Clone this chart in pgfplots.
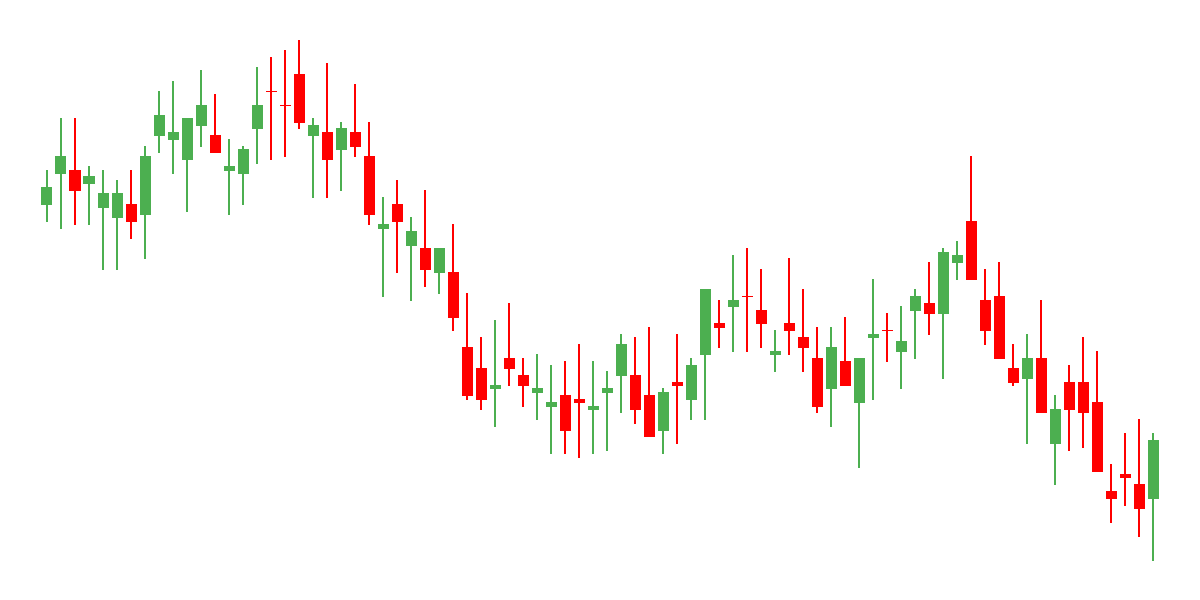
\documentclass[border=0pt]{standalone}
\usepackage{pgfplots}
\usepackage{pgfplotstable}
\pgfplotsset{compat=1.18}
\definecolor{upc}{RGB}{76,175,80}
\definecolor{downc}{RGB}{255,0,0}
\pgfplotstableread{
x o h l c
0 395.3 430 378 413
1 426.3 482 371.3 443.7
3 416.3 434 375.3 424
4 392.3 430 330.3 407
5 382.3 420 330.3 407
7 385.3 454 341.3 443.7
8 464.3 509 447.3 485
9 460.3 519 426.3 468
10 440.3 482 388.3 482
11 474.3 530 453.3 495
13 429.3 461 385.3 434
14 426.3 454 395.3 451
15 471.3 533 436.3 495
19 464.3 482 402.3 475
21 450.3 478 409.3 472
24 371.3 403 303.3 376
26 354.3 383 299.3 369
28 327.3 352 306.3 352
32 211.3 280 173.3 215
35 207.3 246 180.3 212
36 193.3 235 146.3 198
39 190.3 239 146.3 194
40 207.3 229 149.3 212
41 224.3 266 187.3 256
44 169.3 212 146.3 208
46 200.3 242 180.3 235
47 245.3 311 180.3 311
49 293.3 345 248.3 300
52 245.3 270 228.3 249
56 211.3 273 173.3 253
58 197.3 242 132.3 242
59 262.3 321 200.3 266
61 248.3 294 211.3 259
62 289.3 311 241.3 304
64 286.3 352 221.3 348
65 337.3 359 320.3 345
70 221.3 266 156.3 242
72 156.3 205 115.3 191
79 101.3 167 39.3 160
}\greentab
\pgfplotstableread{
x o h l c
2 430 482 375.3 409.3
6 396 430 361.3 378.3
12 465 506 447.3 447.3
16 508.7 543 440.3 508.7
17 494.7 550 443.3 494.7
18 526 560 471.3 477.3
20 468 537 402.3 440.3
22 468 516 443.3 453.3
23 444 478 375.3 385.3
25 396 420 327.3 378.3
27 352 410 313.3 330
29 328 376 269.3 282.3
30 253 307 200.3 204.3
31 232 263 190.3 200.3
33 242 297 214.3 231.3
34 225 242 193.3 214.3
37 205 239 146.3 169.3
38 201 256 142.3 197.3
42 225 263 176.3 190.3
43 205 273 163.3 163.3
45 218 266 156.3 214.3
48 277 300 252.3 272.3
50 303.7 352 248.3 303.7
51 290 331 252.3 276.3
53 277 342 245.3 269.3
54 263 311 228.3 252.3
55 242 273 187.3 193.3
57 239 283 214.3 214.3
60 269.7 287 238.3 269.7
63 297 338 265.3 286.3
66 379 444 320.3 320.3
67 300 331 255.3 269.3
68 304 338 241.3 241.3
69 232 256 214.3 217.3
71 242 300 187.3 187.3
73 218 235 149.3 190.3
74 218 263 152.3 187.3
75 198 249 128.3 128.3
76 109.3 136 77.3 101.3
77 126.3 167 94.3 122.3
78 116.3 181 63.3 91.3
}\redtab
\begin{document}
\begin{tikzpicture}
\useasboundingbox (0,0) rectangle (12cm,6cm);
\begin{axis}[at={(0,0)},anchor=south west,width=12cm,height=6cm,scale only axis,hide axis,
  xmin=-3.357,xmax=82.357,ymin=0,ymax=600,clip=false]
% wicks
\addplot[draw=none, no markers, forget plot, error bars/.cd, y dir=both, y explicit, error mark=none,
  error bar style={line width=0.3pt, draw=upc}]
  table[x=x, y expr={(\thisrow{h}+\thisrow{l})/2}, y error expr={(\thisrow{h}-\thisrow{l})/2}] {\greentab};
\addplot[draw=none, no markers, forget plot, error bars/.cd, y dir=both, y explicit, error mark=none,
  error bar style={line width=0.3pt, draw=downc}]
  table[x=x, y expr={(\thisrow{h}+\thisrow{l})/2}, y error expr={(\thisrow{h}-\thisrow{l})/2}] {\redtab};
% bodies
\addplot[draw=none, no markers, forget plot, error bars/.cd, y dir=both, y explicit, error mark=none,
  error bar style={line width=3.13pt, draw=upc}]
  table[x=x, y expr={(\thisrow{o}+\thisrow{c})/2}, y error expr={max(abs(\thisrow{c}-\thisrow{o})/2,0.6)}] {\greentab};
\addplot[draw=none, no markers, forget plot, error bars/.cd, y dir=both, y explicit, error mark=none,
  error bar style={line width=3.13pt, draw=downc}]
  table[x=x, y expr={(\thisrow{o}+\thisrow{c})/2}, y error expr={max(abs(\thisrow{c}-\thisrow{o})/2,0.6)}] {\redtab};
\end{axis}
\end{tikzpicture}
\end{document}
